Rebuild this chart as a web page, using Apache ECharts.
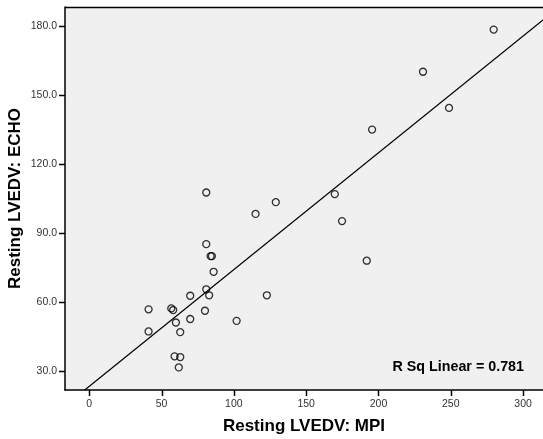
<!DOCTYPE html>
<html>
<head>
<meta charset="utf-8">
<script src="https://cdn.jsdelivr.net/npm/echarts@6/dist/echarts.min.js"></script>
<style>html,body{margin:0;padding:0;background:#fff}#c{width:543px;height:439px}</style>
</head>
<body>
<div id="c"></div>
<script>
// Data
const mpiValues = [41.0, 41.0, 56.7, 58.0, 59.9, 62.9, 69.8, 69.8, 59.0, 62.9, 61.9,
  80.9, 83.9, 84.8, 86.0, 80.9, 82.9, 80.0, 122.8, 101.9, 115.0, 129.0, 174.8, 191.9,
  80.9, 169.8, 195.6, 230.8, 248.8, 279.7];
const echoValues = [56.9, 47.3, 57.3, 56.6, 51.2, 47.0, 62.8, 52.7, 36.5, 36.2, 31.7,
  85.2, 80.0, 80.0, 73.2, 65.6, 63.0, 56.3, 63.0, 51.9, 98.3, 103.4, 95.2, 78.0,
  107.6, 106.9, 134.9, 160.0, 144.3, 178.3];
const xTicks = [0, 50, 100, 150, 200, 250, 300];
const yTicks = [30, 60, 90, 120, 150, 180];
const fitSlope = 0.5065;
const fitIntercept = 23.5;
const rSqLabel = 'R Sq Linear = 0.781';
const xName = 'Resting LVEDV: MPI';
const yName = 'Resting LVEDV: ECHO';

const xMin = -16.8, xMax = 313.8, yMin = 21.9, yMax = 188.1;
const points = mpiValues.map((x, i) => [x, echoValues[i]]);
const fitStartX = (yMin - fitIntercept) / fitSlope;
const fitLine = [[fitStartX, yMin], [xMax, fitIntercept + fitSlope * xMax]];

const font = '"Liberation Sans", Arial, sans-serif';
const chart = echarts.init(document.getElementById('c'));
chart.setOption({
  backgroundColor: '#ffffff',
  animation: false,
  grid: { left: 65, right: 0, top: 7, bottom: 49, show: true, backgroundColor: '#f0f0f0', borderWidth: 0, containLabel: false, outerBoundsMode: 'none' },
  xAxis: {
    type: 'value', min: xMin, max: xMax,
    name: xName, nameLocation: 'middle', nameGap: 28, nameMoveOverlap: false,
    nameTextStyle: { fontFamily: font, fontWeight: 'bold', fontSize: 17, color: '#000' },
    axisLine: { show: true, onZero: false, lineStyle: { color: '#000', width: 1.5 } },
    axisTick: { show: false },
    axisLabel: { customValues: xTicks, fontFamily: font, fontSize: 10.5, color: '#333', margin: 9, formatter: v => String(v) },
    splitLine: { show: false }
  },
  yAxis: {
    type: 'value', min: yMin, max: yMax,
    name: yName, nameLocation: 'middle', nameGap: 41, nameMoveOverlap: false,
    nameTextStyle: { fontFamily: font, fontWeight: 'bold', fontSize: 17, color: '#000' },
    axisLine: { show: true, onZero: false, lineStyle: { color: '#000', width: 1.5 } },
    axisTick: { show: false },
    axisLabel: { customValues: yTicks, fontFamily: font, fontSize: 10.5, color: '#333', margin: 8, formatter: v => v.toFixed(1) },
    splitLine: { show: false }
  },
  series: [
    {
      type: 'line', data: fitLine, symbol: 'none', silent: true,
      lineStyle: { color: '#000', width: 1.2 }, z: 2
    },
    {
      type: 'scatter', data: points, symbol: 'circle', symbolSize: 7,
      itemStyle: { color: 'rgba(0,0,0,0)', borderColor: '#000', borderWidth: 1.3 }, z: 3
    }
  ]
});

// Tick marks placed through the chart's own axis scales
const tickLen = 6;
const graphics = [
  { type: 'line', shape: { x1: 65, y1: 7.5, x2: 543, y2: 7.5 }, style: { stroke: '#000', lineWidth: 1.5 } },
  { type: 'text', right: 19, top: 360, style: { text: rSqLabel, font: 'bold 14.3px ' + font, fill: '#000' } }
];
const axisY = chart.convertToPixel({ yAxisIndex: 0 }, yMin);
const axisX = chart.convertToPixel({ xAxisIndex: 0 }, xMin);
xTicks.forEach(v => {
  const px = Math.round(chart.convertToPixel({ xAxisIndex: 0 }, v)) + 0.5;
  graphics.push({ type: 'rect', shape: { x: px - 0.75, y: axisY, width: 1.5, height: tickLen }, style: { fill: '#000' }, z: 100 });
});
yTicks.forEach(v => {
  const py = Math.round(chart.convertToPixel({ yAxisIndex: 0 }, v)) + 0.5;
  graphics.push({ type: 'rect', shape: { x: axisX - tickLen, y: py - 0.75, width: tickLen, height: 1.5 }, style: { fill: '#000' }, z: 100 });
});
chart.setOption({ graphic: graphics });
</script>
</body>
</html>
